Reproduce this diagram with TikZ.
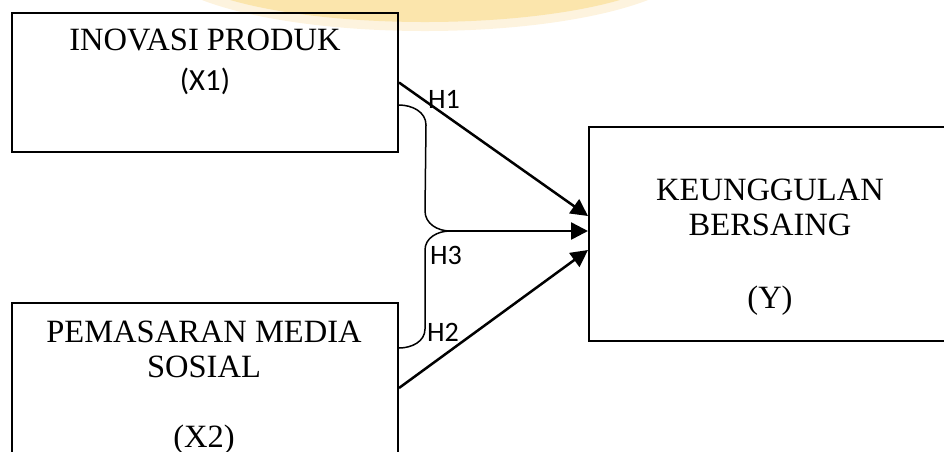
\documentclass[tikz,border=0pt]{standalone}
\usepackage{fontspec}
\setmainfont{Liberation Serif}
\newfontfamily\calibri{Carlito}
\usetikzlibrary{arrows.meta}

\begin{document}
\begin{tikzpicture}[
        kotak/.style={draw, line width=0.04cm, inner sep=0},
        teks/.style={align=center, inner sep=0, font=\fontsize{18.5}{20}\selectfont},
        hlabel/.style={inner sep=0, font=\calibri\fontsize{16}{19}\selectfont},
        panah/.style={line width=0.05cm, -{Triangle[length=0.34cm,width=0.34cm]}},
        kurung/.style={line width=0.03cm}
    ]

        % Rahmen
        \useasboundingbox (0,0) rectangle (18.88,-9.02);
        \clip (0,0) rectangle (18.88,-9.02);

        % Logo (Wasserzeichen)
        \begin{scope}
            \fill[color={rgb,255:red,253;green,243;blue,222}] (8.5,0.8) ellipse (5.4 and 1.42);
            \fill[color={rgb,255:red,251;green,229;blue,172}] (8.5,0.8) ellipse (5.1 and 1.24);
        \end{scope}

        % Kotak
        \node[kotak, minimum width=7.72cm, minimum height=2.78cm] (inovasi) at (4.10,-1.65) {};
        \node[kotak, minimum width=7.72cm, minimum height=3.40cm] (pemasaran) at (4.10,-7.76) {};
        \node[kotak, minimum width=8.40cm, minimum height=4.28cm] (unggul) at (15.98,-4.68) {};

        % Teks
        \node[teks] (inovasiteks) at (4.10,-1.24) {INOVASI PRODUK\\[0.1cm]{\calibri\fontsize{17.5}{20}\selectfont (X1)}};
        \node[teks] (pemasaranteks) at (4.08,-7.75) {PEMASARAN MEDIA\\SOSIAL\\[0.7cm](X2)};
        \node[teks] (unggulteks) at (15.40,-4.94) {KEUNGGULAN\\BERSAING\\[0.76cm](Y)};

        % Kurung X1-X2
        \coordinate (b1) at ([yshift=-0.45cm]inovasi.east);
        \coordinate (b2) at ([yshift=0.80cm]pemasaran.east);
        \coordinate (ujung) at (9.00,-4.62);
        \draw[kurung] (b1) to[out=0,in=90] ++(0.54,-0.40) -- (8.50,-4.22) to[out=-90,in=180] (ujung)
            to[out=180,in=90] (8.50,-5.00) -- (8.50,-6.58) to[out=-90,in=0] (b2);

        % Panah
        \draw[panah] (inovasi.east) -- ([yshift=0.36cm]unggul.west);
        \draw[panah] (ujung) -- (ujung -| unggul.west);
        \draw[panah] (pemasaran.east) -- ([yshift=-0.32cm]unggul.west);

        % Hipotesis
        \node[hlabel] (h1) at (8.88,-1.98) {H1};
        \node[hlabel] (h3) at (8.92,-5.10) {H3};
        \node[hlabel] (h2) at (8.86,-6.64) {H2};
    \end{tikzpicture}
\end{document}
